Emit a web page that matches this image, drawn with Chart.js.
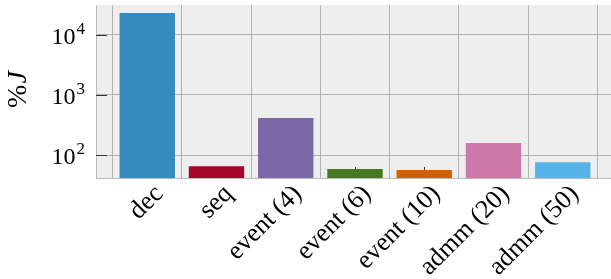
<!DOCTYPE html>
<html>
<head>
<meta charset="utf-8">
<script src="https://cdn.jsdelivr.net/npm/chart.js@4"></script>
<style>
  html, body { margin: 0; padding: 0; background: #fff; overflow: hidden; }
  #wrap { width: 614px; height: 279px; }
</style>
</head>
<body>
<div id="wrap"><canvas id="chart" width="614" height="279"></canvas></div>
<script>
// methods on the x axis
const methods = ["dec", "seq", "event (4)", "event (6)", "event (10)", "admm (20)", "admm (50)"];
// %J per method (log scale)
const percentJ = [22900, 66, 416, 59, 57, 160, 77];
// bar colours (bmh cycle)
const barColors = ["#348ABD", "#A60628", "#7A68A6", "#467821", "#D55E00", "#CC79A7", "#56B4E9"];
// decades shown on the y axis
const yTicks = [100, 1000, 10000];

const serif = "'Liberation Serif', 'DejaVu Serif', serif";

// background, inward tick marks, y tick labels with exponents, y label
const extras = {
  id: 'extras',
  beforeDraw(chart) {
    const { ctx, chartArea: a } = chart;
    ctx.save();
    ctx.fillStyle = '#eeeeee';
    ctx.fillRect(a.left, a.top, a.right - a.left, a.bottom - a.top);
    ctx.restore();
  },
  beforeDatasetsDraw(chart) {
    const { ctx, chartArea: a, scales } = chart;
    ctx.save();
    ctx.strokeStyle = '#333';
    ctx.lineWidth = 1;
    scales.x.ticks.forEach(t => {
      const x = Math.round(scales.x.getPixelForValue(t.value)) + 0.5;
      ctx.beginPath(); ctx.moveTo(x, a.bottom); ctx.lineTo(x, a.bottom - 11); ctx.stroke();
    });
    scales.y.ticks.forEach(t => {
      const y = Math.round(scales.y.getPixelForValue(t.value)) + 0.5;
      ctx.beginPath(); ctx.moveTo(a.left, y); ctx.lineTo(a.left + 11, y); ctx.stroke();
    });
    ctx.restore();
  },
  afterDraw(chart) {
    const { ctx, chartArea: a, scales } = chart;
    ctx.save();
    ctx.fillStyle = '#000';
    // y tick labels: 10 with raised exponent
    scales.y.ticks.forEach(t => {
      const y = scales.y.getPixelForValue(t.value);
      const exp = String(Math.round(Math.log10(t.value)));
      ctx.font = '17px ' + serif;
      const we = ctx.measureText(exp).width;
      const xr = a.left - 11;
      ctx.textAlign = 'right';
      ctx.textBaseline = 'alphabetic';
      ctx.fillText(exp, xr, y - 1);
      ctx.font = '24px ' + serif;
      ctx.fillText('10', xr - we - 1, y + 9);
    });
    // y axis label "%J"
    ctx.translate(19, 90);
    ctx.rotate(-Math.PI / 2);
    ctx.textBaseline = 'middle';
    ctx.textAlign = 'left';
    ctx.font = '28px ' + serif;
    const w1 = ctx.measureText('%').width;
    ctx.font = 'italic 28px ' + serif;
    const w2 = ctx.measureText('J').width;
    const x0 = -(w1 + w2) / 2;
    ctx.font = '28px ' + serif;
    ctx.fillText('%', x0, 0);
    ctx.font = 'italic 28px ' + serif;
    ctx.fillText('J', x0 + w1 + 1, 0);
    ctx.restore();
  }
};

new Chart(document.getElementById('chart'), {
  type: 'bar',
  data: {
    datasets: [{
      data: percentJ.map((v, i) => ({ x: i, y: v })),
      backgroundColor: barColors,
      borderWidth: 0,
      barPercentage: 0.8,
      categoryPercentage: 1.0
    }]
  },
  options: {
    responsive: false,
    animation: false,
    layout: { padding: { top: 5, left: 0, right: 0, bottom: 0 } },
    plugins: { legend: { display: false }, tooltip: { enabled: false } },
    scales: {
      x: {
        type: 'linear',
        offset: false,
        min: -0.74,
        max: 6.74,
        afterBuildTicks(scale) { scale.ticks = methods.map((m, i) => ({ value: i })); },
        afterFit(scale) {
          scale.height = 101;
          scale.paddingLeft = 0; scale.paddingRight = 0;
        },
        ticks: {
          autoSkip: false,
          maxRotation: 45,
          minRotation: 45,
          color: '#000',
          padding: 1,
          labelOffset: 12,
          font: { family: serif, size: 26 },
          callback: (v) => methods[v]
        },
        grid: { color: '#b2b2b2', lineWidth: 1, drawTicks: false },
        border: { color: '#bcbcbc', width: 1 }
      },
      y: {
        type: 'logarithmic',
        min: 42,
        max: 31100,
        afterBuildTicks(scale) { scale.ticks = yTicks.map(v => ({ value: v })); },
        afterFit(scale) {
          scale.width = 96;
          scale.paddingTop = 0; scale.paddingBottom = 0;
        },
        ticks: {
          display: false
        },
        grid: { color: '#b2b2b2', lineWidth: 1, drawTicks: false },
        border: { color: '#bcbcbc', width: 1 }
      }
    }
  },
  plugins: [extras]
});
</script>
</body>
</html>
